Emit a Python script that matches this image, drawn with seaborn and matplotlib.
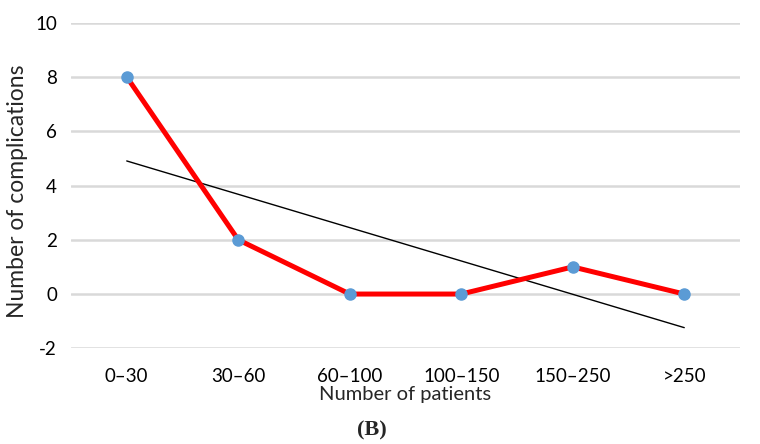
import matplotlib
matplotlib.use("Agg")
import matplotlib.pyplot as plt
import seaborn as sns
import numpy as np
import pandas as pd

# Complications by number of patients
categories = ["0–30", "30–60", "60–100", "100–150", "150–250", ">250"]
complications = [8, 2, 0, 0, 1, 0]
y_ticks = [-2, 0, 2, 4, 6, 8, 10]

df = pd.DataFrame({"pos": np.arange(len(categories)), "count": complications})

sns.set_style("white")
plt.rcParams["font.family"] = ["Lato", "DejaVu Sans"]

fig = plt.figure(figsize=(7.6, 4.44), dpi=100)
ax = fig.add_axes([0.0934, 0.2155, 0.8803, 0.7334])

# linear trend line (least squares over category index)
sns.regplot(data=df, x="pos", y="count", ax=ax, scatter=False, ci=None,
            color="black", line_kws={"linewidth": 1.0, "zorder": 2})

sns.lineplot(data=df, x="pos", y="count", ax=ax, color="#FF0000",
             linewidth=3.6, zorder=3)
ax.plot(df["pos"], df["count"], linestyle="none", marker="o", markersize=8,
        color="#5B9BD5", zorder=4)

ax.set_xlim(-0.5, len(categories) - 0.5)
ax.set_ylim(-2, 10)
ax.set_yticks(y_ticks)
ax.set_yticklabels([str(t) for t in y_ticks])
ax.set_xticks(df["pos"])
ax.set_xticklabels(categories)
ax.yaxis.grid(True, color="#D9D9D9", linewidth=1.8)
ax.set_axisbelow(True)
for s in ax.spines.values():
    s.set_visible(False)
ax.tick_params(axis="both", length=0, labelsize=13.5, colors="black")
ax.tick_params(axis="x", pad=14)
ax.tick_params(axis="y", pad=10)

ax.set_xlabel("Number of patients", fontsize=14.5, labelpad=0)
ax.xaxis.set_label_coords(0.5, -0.115)
ax.xaxis.label.set_va("top")
ax.set_ylabel("Number of complications", fontsize=16.5)
ax.yaxis.set_label_coords(-0.064, 0.483)

fig.text(0.489, 0.0315, "(B)", ha="center", va="center", fontsize=16,
         fontweight="bold", family="Liberation Serif")

fig.savefig("out.png", dpi=100)
